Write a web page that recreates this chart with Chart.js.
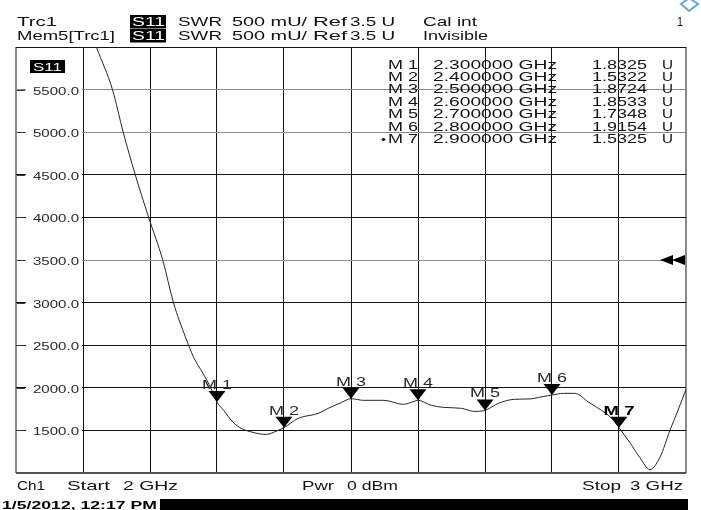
<!DOCTYPE html>
<html>
<head>
<meta charset="utf-8">
<script src="https://cdn.jsdelivr.net/npm/chart.js@4.4.1/dist/chart.umd.min.js"></script>
<style>
    html, body { margin: 0; padding: 0; background: #fff; overflow: hidden; }
    canvas { display: block; }
</style>
</head>
<body>
<canvas id="swr" width="701" height="510"></canvas>
<script>
// S11 SWR trace, axis values are mU (1832.5 = 1.8325 U)
const traceFreq = [2.111, 2.120, 2.144, 2.160, 2.178, 2.198, 2.219, 2.235, 2.253, 2.265, 2.279, 2.291,
    2.300, 2.310, 2.324, 2.336, 2.354, 2.373, 2.391, 2.400, 2.421, 2.451, 2.466, 2.486,
    2.500, 2.519, 2.549, 2.578, 2.594, 2.600, 2.620, 2.639, 2.665, 2.684, 2.700, 2.720,
    2.744, 2.769, 2.780, 2.800, 2.817, 2.834, 2.855, 2.874, 2.889, 2.900, 2.916, 2.931,
    2.946, 2.961, 2.976, 2.988, 3.000];
const traceSwr = [6200, 6000, 5500, 5000, 4500, 4000, 3500, 3000, 2594, 2360, 2170, 1995,
    1832, 1735, 1595, 1525, 1476, 1453, 1500, 1532, 1641, 1700, 1759, 1829,
    1872, 1853, 1853, 1806, 1840, 1853, 1794, 1770, 1759, 1723, 1735, 1818,
    1865, 1870, 1888, 1915, 1935, 1935, 1829, 1735, 1641, 1532, 1359, 1182,
    1041, 1182, 1500, 1735, 1982];

const markerNames = ["M 1", "M 2", "M 3", "M 4", "M 5", "M 6", "M 7"];
const markerFreq = [2.3, 2.4, 2.5, 2.6, 2.7, 2.8, 2.9];
const markerSwr = [1832.5, 1532.2, 1872.4, 1853.3, 1734.8, 1915.4, 1532.5];
const markerFreqText = ["2.300000 GHz", "2.400000 GHz", "2.500000 GHz", "2.600000 GHz",
    "2.700000 GHz", "2.800000 GHz", "2.900000 GHz"];
const markerValueText = ["1.8325", "1.5322", "1.8724", "1.8533", "1.7348", "1.9154", "1.5325"];
const activeMarker = 6;

const yTickLabels = ["1500.0", "2000.0", "2500.0", "3000.0", "3500.0", "4000.0", "4500.0", "5000.0", "5500.0"];
const refLevel = 3500;

const FONT = "'Liberation Sans', Arial, sans-serif";

// draws text squeezed/stretched to the width measured on the instrument screen
function wideText(ctx, s, x, y, size, width, opts = {}) {
    ctx.save();
    ctx.font = (opts.bold ? "bold " : "") + size + "px " + FONT;
    ctx.fillStyle = opts.color || "#111";
    ctx.textBaseline = "alphabetic";
    const w = ctx.measureText(s).width;
    const sx = width ? width / w : 1.5;
    const left = opts.center ? x - (w * sx) / 2 : x;
    ctx.translate(left, y);
    ctx.scale(sx, 1);
    ctx.fillText(s, 0, 0);
    ctx.restore();
}

const screenPlugin = {
    id: "screen",
    afterDatasetsDraw(chart) {
        const ctx = chart.ctx;
        const xs = chart.scales.x, ys = chart.scales.y;

        // y labels inside the grid, with the grid cleared behind them
        yTickLabels.forEach(lbl => {
            const py = Math.round(ys.getPixelForValue(parseFloat(lbl))) + 0.5;
            ctx.fillStyle = "#fff";
            ctx.fillRect(26, py - 6, 56, 12);
            ctx.strokeStyle = "#333";
            ctx.lineWidth = 1;
            ctx.beginPath();
            ctx.moveTo(17, py);
            ctx.lineTo(25, py);
            ctx.stroke();
            wideText(ctx, lbl, 33, py + 4, 10, 46, { color: "#2a2a2a" });
        });

        // trace name box
        ctx.fillStyle = "#000";
        ctx.fillRect(30, 60, 35, 13);
        wideText(ctx, "S11", 33, 71, 11, 29, { color: "#fff" });

        // marker table
        const rowY = [68.5, 81, 93.3, 105.7, 118, 130.5, 143];
        markerNames.forEach((m, i) => {
            const y = rowY[i];
            if (i === activeMarker) wideText(ctx, "\u2022", 381, y, 10, 5);
            wideText(ctx, m, 388, y, 12, 30);
            wideText(ctx, markerFreqText[i], 433, y, 12, 124);
            wideText(ctx, markerValueText[i], 592, y, 12, 55);
            wideText(ctx, "U", 662, y, 12, 11);
        });

        // marker triangles and labels
        markerFreq.forEach((f, i) => {
            const px = xs.getPixelForValue(f);
            const py = ys.getPixelForValue(markerSwr[i]);
            ctx.fillStyle = "#000";
            ctx.beginPath();
            ctx.moveTo(px - 8.5, py - 11);
            ctx.lineTo(px + 8.5, py - 11);
            ctx.lineTo(px, py);
            ctx.closePath();
            ctx.fill();
            const bold = i === activeMarker;
            wideText(ctx, markerNames[i], px, py - 13, 13, bold ? 31 : 30, { center: true, bold: bold, color: bold ? "#000" : "#2a2a2a" });
        });

        // reference level arrows on the right edge
        const ry = ys.getPixelForValue(refLevel);
        ctx.fillStyle = "#000";
        [660, 672].forEach(tx => {
            ctx.beginPath();
            ctx.moveTo(tx, ry);
            ctx.lineTo(tx + 13, ry - 5);
            ctx.lineTo(tx + 13, ry + 5);
            ctx.closePath();
            ctx.fill();
        });
    },
    afterDraw(chart) {
        const ctx = chart.ctx;

        // header
        [26, 40].forEach((y, row) => {
            wideText(ctx, row === 0 ? "Trc1" : "Mem5[Trc1]", 17, y, 13, row === 0 ? 40 : 98);
            ctx.fillStyle = "#000";
            ctx.fillRect(130, y - 11, 36, 13.5);
            wideText(ctx, "S11", 132, y, 13, 33, { color: "#fff" });
            wideText(ctx, "SWR", 178, y, 13, 44);
            wideText(ctx, "500 mU/", 232, y, 13, 75);
            wideText(ctx, "Ref", 313, y, 13, 34);
            wideText(ctx, "3.5 U", 350, y, 13, 45);
            wideText(ctx, row === 0 ? "Cal int" : "Invisible", 423, y, 13, row === 0 ? 54 : 65);
        });
        wideText(ctx, "1", 677, 26, 13, 6);

        // R&S logo
        ctx.save();
        ctx.strokeStyle = "#6aa6d8";
        ctx.lineWidth = 2;
        ctx.beginPath();
        ctx.moveTo(681, 4);
        ctx.lineTo(689, -2);
        ctx.lineTo(698, 4);
        ctx.lineTo(689, 11);
        ctx.closePath();
        ctx.stroke();
        ctx.restore();

        // footer
        wideText(ctx, "Ch1", 17, 490, 13, 28);
        wideText(ctx, "Start", 67, 490, 13, 43);
        wideText(ctx, "2 GHz", 123, 490, 13, 55);
        wideText(ctx, "Pwr", 302, 490, 13, 32);
        wideText(ctx, "0 dBm", 347, 490, 13, 51);
        wideText(ctx, "Stop", 582, 490, 13, 39);
        wideText(ctx, "3 GHz", 630, 490, 13, 53);

        // date bar
        wideText(ctx, "1/5/2012, 12:17 PM", 2, 509, 10, 155, { bold: true, color: "#000" });
        ctx.fillStyle = "#000";
        ctx.fillRect(160, 499, 528, 11);
    }
};

new Chart(document.getElementById("swr"), {
    type: "line",
    data: {
        datasets: [{
            data: traceFreq.map((f, i) => ({ x: f, y: traceSwr[i] })),
            borderColor: "#262626",
            borderWidth: 1,
            pointRadius: 0,
            cubicInterpolationMode: "monotone"
        }]
    },
    options: {
        responsive: false,
        animation: false,
        layout: { padding: { left: 16, right: 15, top: 47, bottom: 37 } },
        plugins: { legend: { display: false }, tooltip: { enabled: false } },
        scales: {
            x: {
                type: "linear", min: 2, max: 3,
                ticks: { display: false, stepSize: 0.1 },
                grid: {
                    drawTicks: false,
                    color: c => (c.index === 0 || c.index === 10) ? "#8a8a8a" : "#111",
                    lineWidth: c => (c.index === 0 || c.index === 10) ? 2 : 1
                },
                border: { display: false }
            },
            y: {
                min: 1000, max: 6000,
                ticks: { display: false, stepSize: 500 },
                grid: {
                    drawTicks: false,
                    color: c => {
                        const v = c.tick.value;
                        if (v === 1000) return "#555";
                        if (v === 5500 || v === 5000 || v === 3500) return "#8a8a8a";
                        return "#111";
                    },
                    lineWidth: c => c.tick.value === 1000 ? 2 : 1
                },
                border: { display: false }
            }
        }
    },
    plugins: [screenPlugin]
});
</script>
</body>
</html>
